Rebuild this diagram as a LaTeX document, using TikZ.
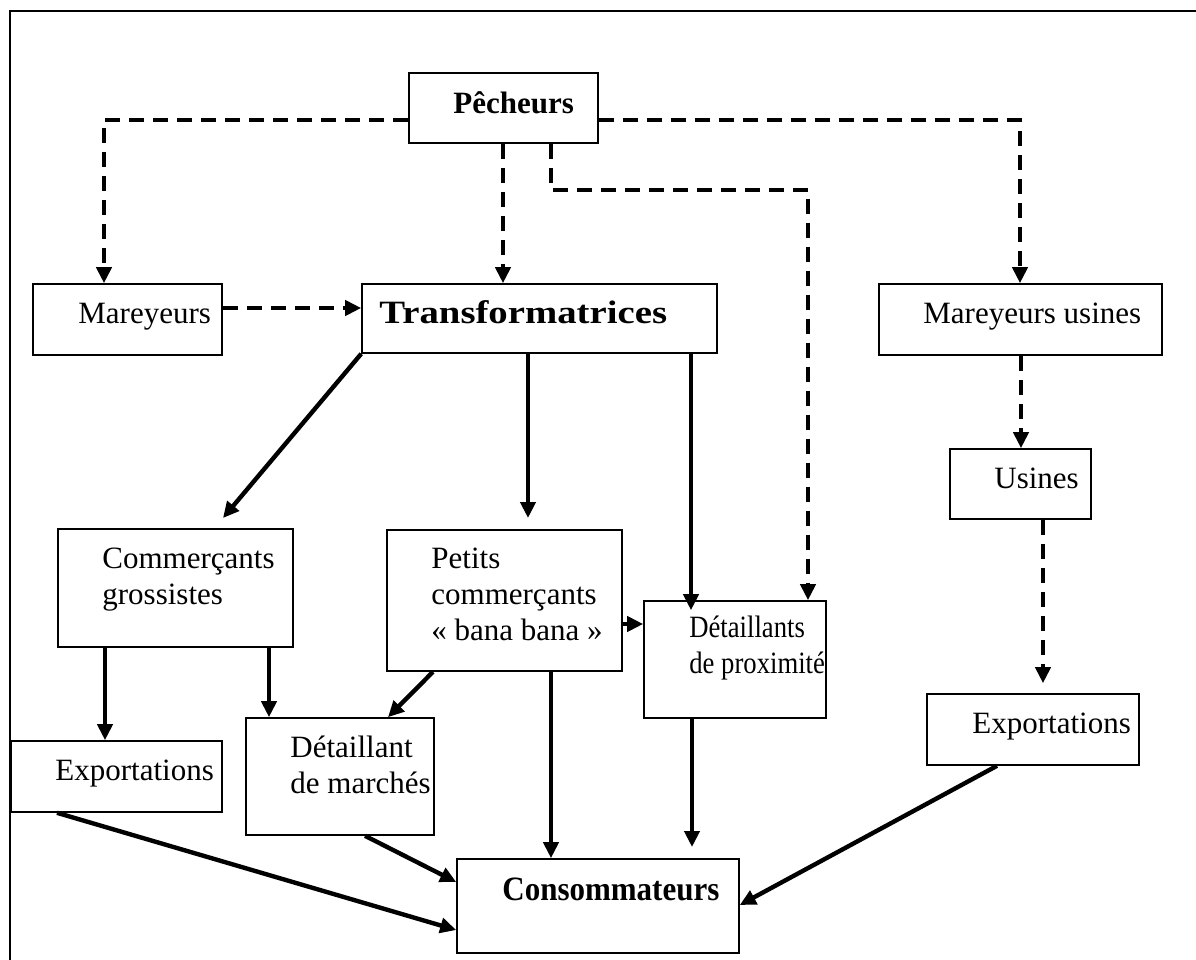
\documentclass[tikz,border=0pt]{standalone}
\usepackage{fontspec}
\setmainfont{Liberation Serif}
\usepackage{graphicx}
\usepackage{tikz}
\usetikzlibrary{arrows.meta,fit}
\tikzset{
  cell/.style={draw=black, line width=0.8pt, inner sep=0pt, rectangle},
  txt/.style={anchor=base west, inner sep=0pt, align=left,
    font=\fontsize{15.5}{18}\selectfont},
  flow/.style={draw=black, line width=2.2pt, -{Triangle[length=8pt,width=7.5pt]}},
  dashflow/.style={draw=black, line width=2pt, dash pattern=on 7.5pt off 4.5pt,
    -{Triangle[length=8pt,width=7.5pt]}},
  frame/.style={draw=black, line width=1.3pt},
}

\begin{document}
\begin{tikzpicture}[x=0.5pt,y=-0.5pt]
  \useasboundingbox (0,0) rectangle (1196,960);
  \draw[frame] (10,960) -- (10,11) -- (1196,11);

  % boxes
  \node[cell, fit={(409,73) (598,143)}] (pech) {};
  \node[cell, fit={(33,284) (222,355)}] (mar) {};
  \node[cell, fit={(362,284) (717,353)}] (trans) {};
  \node[cell, fit={(879,284) (1162,355)}] (maru) {};
  \node[cell, fit={(950,449) (1091,519)}] (usines) {};
  \node[cell, fit={(58,529) (293,647)}] (gros) {};
  \node[cell, fit={(387,530) (622,671)}] (petits) {};
  \node[cell, fit={(644,601) (826,718)}] (prox) {};
  \node[cell, fit={(11,741) (222,812)}] (exg) {};
  \node[cell, fit={(246,718) (434,835)}] (marc) {};
  \node[cell, fit={(927,694) (1139,765)}] (exd) {};
  \node[cell, fit={(457,859) (739,953)}] (cons) {};

  % texts
  \node[txt] (tpech) at (453,113) {\textbf{Pêcheurs}};
  \node[txt] (tmar) at (78,323) {Mareyeurs};
  \node[txt] (ttrans) at (379,323) {\scalebox{1.25}[1.05]{\textbf{Transformatrices}}};
  \node[txt] (tmaru) at (923,323) {Mareyeurs usines};
  \node[txt] (tusines) at (994,488) {Usines};
  \node[txt] (tgros) at (102,568) {\begin{tabular}[t]{@{}l@{}}Commerçants\\grossistes\end{tabular}};
  \node[txt] (tpetits) at (431,568) {\begin{tabular}[t]{@{}l@{}}Petits\\commerçants\\« bana bana »\end{tabular}};
  \node[txt] (tprox1) at (689,637) {\scalebox{0.86}[1]{Détaillants}};
  \node[txt] (tprox2) at (689,673) {\scalebox{0.86}[1]{de proximité}};
  \node[txt] (texg) at (55,780) {Exportations};
  \node[txt] (tmarc) at (290,757) {\begin{tabular}[t]{@{}l@{}}Détaillant\\de marchés\end{tabular}};
  \node[txt] (texd) at (972,733) {Exportations};
  \node[txt] (tcons) at (502,900) {\scalebox{1}[1.1]{\textbf{Consommateurs}}};

  % bends and free ends
  \coordinate (cl) at (104,120);
  \coordinate (cr) at (1020,120);
  \coordinate (cm) at (551,190);
  \coordinate (cp) at (808,190);
  \coordinate (ga) at (223,518);
  \coordinate (pa) at (528,518);
  \coordinate (pb) at (692,847);

  % dashed flows
  \draw[dashflow] (pech.west |- cl) -| (cl |- mar.north);
  \draw[dashflow] (503,0 |- pech.south) -- (503,0 |- trans.north);
  \draw[dashflow] (cm |- pech.south) |- (cp) -- (cp |- prox.north);
  \draw[dashflow] (pech.east |- cr) -| (cr |- maru.north);
  \draw[dashflow] (mar.east |- 0,308) -- (trans.west |- 0,308);
  \draw[dashflow] (1021,0 |- maru.south) -- (1021,0 |- usines.north);
  \draw[dashflow, shorten >=5pt] (1043,0 |- usines.south) -- (1043,0 |- exd.north);

  % solid flows
  \draw[flow] (trans.south west) -- (ga);
  \draw[flow] (pa |- trans.south) -- (pa);
  \draw[flow, shorten >=-5pt] (691,0 |- trans.south) -- (691,0 |- prox.north);
  \draw[flow] (105,0 |- gros.south) -- (105,0 |- exg.north);
  \draw[flow] (269,0 |- gros.south) -- (269,0 |- marc.north);
  \draw[flow] (433,0 |- petits.south) -- (388,0 |- marc.north);
  \draw[flow] (petits.east |- 0,624) -- (prox.west |- 0,624);
  \draw[flow] (551,0 |- petits.south) -- (551,0 |- cons.north);
  \draw[flow] (pb |- prox.south) -- (pb);
  \draw[flow] (365,0 |- marc.south) -- (cons.west |- 0,882);
  \draw[flow] (57,0 |- exg.south) -- (cons.west |- 0,930);
  \draw[flow] (997,0 |- exd.south) -- (cons.east |- 0,905);
\end{tikzpicture}
\end{document}
